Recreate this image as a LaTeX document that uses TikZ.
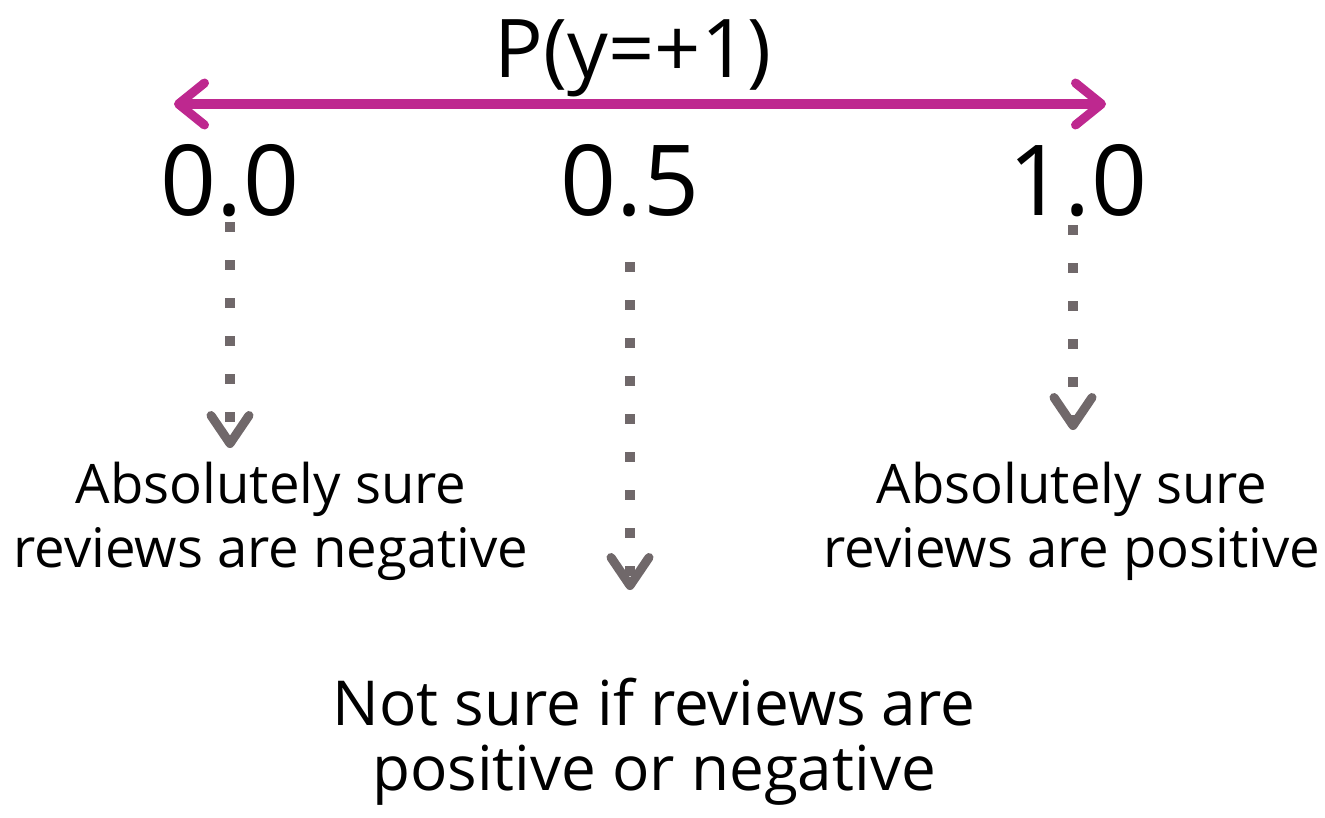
\documentclass[tikz,border=0pt]{standalone}
\usepackage{fontspec}
\setmainfont{Open Sans}
\usetikzlibrary{arrows.meta}
\definecolor{mag}{RGB}{190,40,143}
\definecolor{dotgray}{RGB}{112,104,106}
\tikzset{
  lbl/.style={anchor=base, inner sep=0pt, text=black},
  big/.style={lbl, font=\fontsize{98}{100}\selectfont},
  small/.style={lbl, font=\fontsize{54.5}{60}\selectfont},
  bottomtxt/.style={lbl, font=\fontsize{62}{66}\selectfont},
  dotline/.style={draw=dotgray, line width=10pt, dash pattern=on 10pt off 28pt,
    -{Straight Barb[length=28pt, width=38pt, line width=9pt, round]}},
  axis/.style={draw=mag, line width=10pt,
    {Straight Barb[length=26pt, width=42pt, line width=9pt, round]}-{Straight Barb[length=26pt, width=42pt, line width=9pt, round]}}
}
\begin{document}
\begin{tikzpicture}[x=1pt, y=-1pt]
\useasboundingbox (0,0) rectangle (1325,817);
\node[lbl, font=\fontsize{81}{86}\selectfont] (title) at (633,77) {P(y=+1)};
\coordinate (aL) at (174,104);
\coordinate (aR) at (1106,104);
\draw[axis] (aL) -- (aR);
\node[big] (v0) at (230,215) {0.0};
\node[big] (v5) at (630,215) {0.5};
\node[big] (v1) at (1078,215) {1.0};
\coordinate (s0) at (230,222);
\coordinate (e0) at (230,448);
\coordinate (s5) at (630,262);
\coordinate (e5) at (630,590);
\coordinate (s1) at (1073,225);
\coordinate (e1) at (1073,430);
\draw[dotline] (s0) -- (e0);
\draw[dotline] (s5) -- (e5);
\draw[dotline] (s1) -- (e1);
\node[small] (n1) at (271,503) {Absolutely sure};
\node[small] (n2) at (271,567) {reviews are negative};
\node[small] (p1) at (1072,503) {Absolutely sure};
\node[small] (p2) at (1072,567) {reviews are positive};
\node[bottomtxt] (m1) at (654,725) {Not sure if reviews are};
\node[bottomtxt] (m2) at (654,790) {positive or negative};
\end{tikzpicture}
\end{document}
